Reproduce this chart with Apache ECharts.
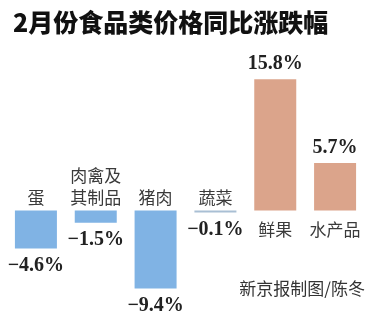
<!DOCTYPE html>
<html><head><meta charset="utf-8">
<script src="https://cdn.jsdelivr.net/npm/echarts@6/dist/echarts.min.js"></script>
<style>html,body{margin:0;padding:0;background:#fff}#c{width:372px;height:312px}</style>
</head><body><div id="c"></div>
<script>
var categories = ['蛋', '肉禽及\n其制品', '猪肉', '蔬菜', '鲜果', '水产品'];
var values = [-4.6, -1.5, -9.4, -0.1, 15.8, 5.7];
var titleText = '2月份食品类价格同比涨跌幅';
var sourceText = '新京报制图/陈冬';

var BLUE = '#80b3e4', SALMON = '#dba48b';
var chart = echarts.init(document.getElementById('c'));
var fmtVal = function (v) { return (v < 0 ? '\u2212' + Math.abs(v).toFixed(1) : v.toFixed(1)) + '%'; };

chart.setOption({
  animation: false,
  title: { text: titleText, left: 8, top: 5, textStyle: { fontFamily: 'Noto Sans CJK SC', fontWeight: 900, fontSize: 25, color: '#111' } },
  graphic: [{ type: 'text', right: 7, top: 280, style: { text: sourceText, fontFamily: 'Noto Sans CJK SC', fontSize: 17, fill: '#333' } }],
  grid: { left: 6, right: 7, top: 61, bottom: 2 },
  xAxis: { type: 'category', data: categories, show: false },
  yAxis: { type: 'value', min: -12, max: 18, show: false },
  series: [
    {
      type: 'bar', barWidth: 42, barMinHeight: 2,
      data: values.map(function (v, i) {
        return {
          value: v,
          itemStyle: { color: v < 0 ? (i === 3 ? '#a9bfd4' : BLUE) : SALMON },
          label: { position: v < 0 ? 'bottom' : 'top', distance: v < 0 ? 7 : 5 }
        };
      }),
      label: { show: true, formatter: function (p) { return fmtVal(p.value); }, fontFamily: 'Liberation Serif', fontWeight: 'bold', fontSize: 20, color: '#222' }
    },
    {
      type: 'bar', barWidth: 42, barGap: '-100%', silent: true,
      data: values.map(function (v, i) {
        return { value: 0, label: { position: v < 0 ? 'top' : 'bottom', distance: v < 0 ? 2 : 8 } };
      }),
      itemStyle: { color: 'transparent' },
      label: { show: true, formatter: function (p) { return categories[p.dataIndex]; }, fontFamily: 'Noto Sans CJK SC', fontSize: 17, lineHeight: 22, color: '#3a3a3a' }
    }
  ]
});
</script></body></html>
